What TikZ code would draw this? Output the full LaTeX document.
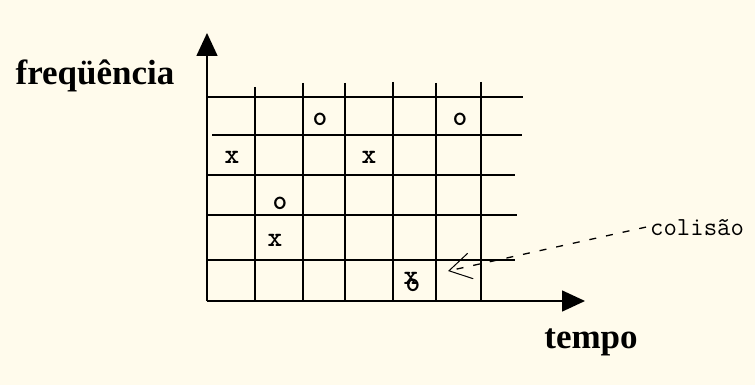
\documentclass[tikz,border=0pt]{standalone}
\usepackage{fontspec}
\setmainfont{Liberation Serif}
\usetikzlibrary{positioning,arrows.meta}
\definecolor{paper}{RGB}{255,251,236}
\begin{document}
\begin{tikzpicture}[
  x=1pt, y=-1pt,
  axislabel/.style={font=\fontsize{35}{40}\selectfont\bfseries, inner sep=0pt},
  symb/.style={font=\ttfamily\bfseries\fontsize{28}{30}\selectfont, inner sep=0pt},
  gridline/.style={line width=1.5pt},
  axis/.style={line width=1.6pt, -{Triangle[length=23pt,width=21pt]}}
]
  \fill[paper] (0,0) rectangle (755,385);
  \useasboundingbox (0,0) rectangle (755,385);

  % grid
  \foreach \y/\xs/\xe in {97/207/523, 135/212/522, 175/207/515, 215/207/517, 260/207/515}
    \draw[gridline] (\xs,\y) -- (\xe,\y);
  \foreach \x/\yt in {255/87, 303/83, 345/83, 393/82, 436/83, 481/82}
    \draw[gridline] (\x,\yt) -- (\x,301);

  % axes
  \coordinate (origin) at (207,301);
  \coordinate (ftop) at (207,33);
  \coordinate (tend) at (585,301);
  \draw[axis] (origin) -- (ftop);
  \draw[axis] (origin) -- (tend);
  \node[axislabel, anchor=base] (freq) at (95,85) {freqüência};
  \node[axislabel, anchor=base] (tempo) at (591,348) {tempo};

  % transmissions
  \node[symb] (o1) at (320,119) {o};
  \node[symb] (o2) at (460,119) {o};
  \node[symb] (x1) at (232,157) {x};
  \node[symb] (x2) at (369,157) {x};
  \node[symb] (o3) at (280,203) {o};
  \node[symb] (x3) at (275,240) {x};
  \node[symb] (x4) at (411,278) {x};
  \node[symb] (o4) at (413,285) {o};

  % collision
  \node[font=\ttfamily\fontsize{26}{28}\selectfont, inner sep=4pt, anchor=base west]
    (colisao) at (646,235) {colisão};
  \coordinate (hit) at (448,271);
  \draw[line width=1.3pt, dash pattern=on 7pt off 10pt,
        -{Straight Barb[length=22pt,width=26pt,line width=1pt]}]
    (colisao.west) -- (hit);
\end{tikzpicture}
\end{document}
